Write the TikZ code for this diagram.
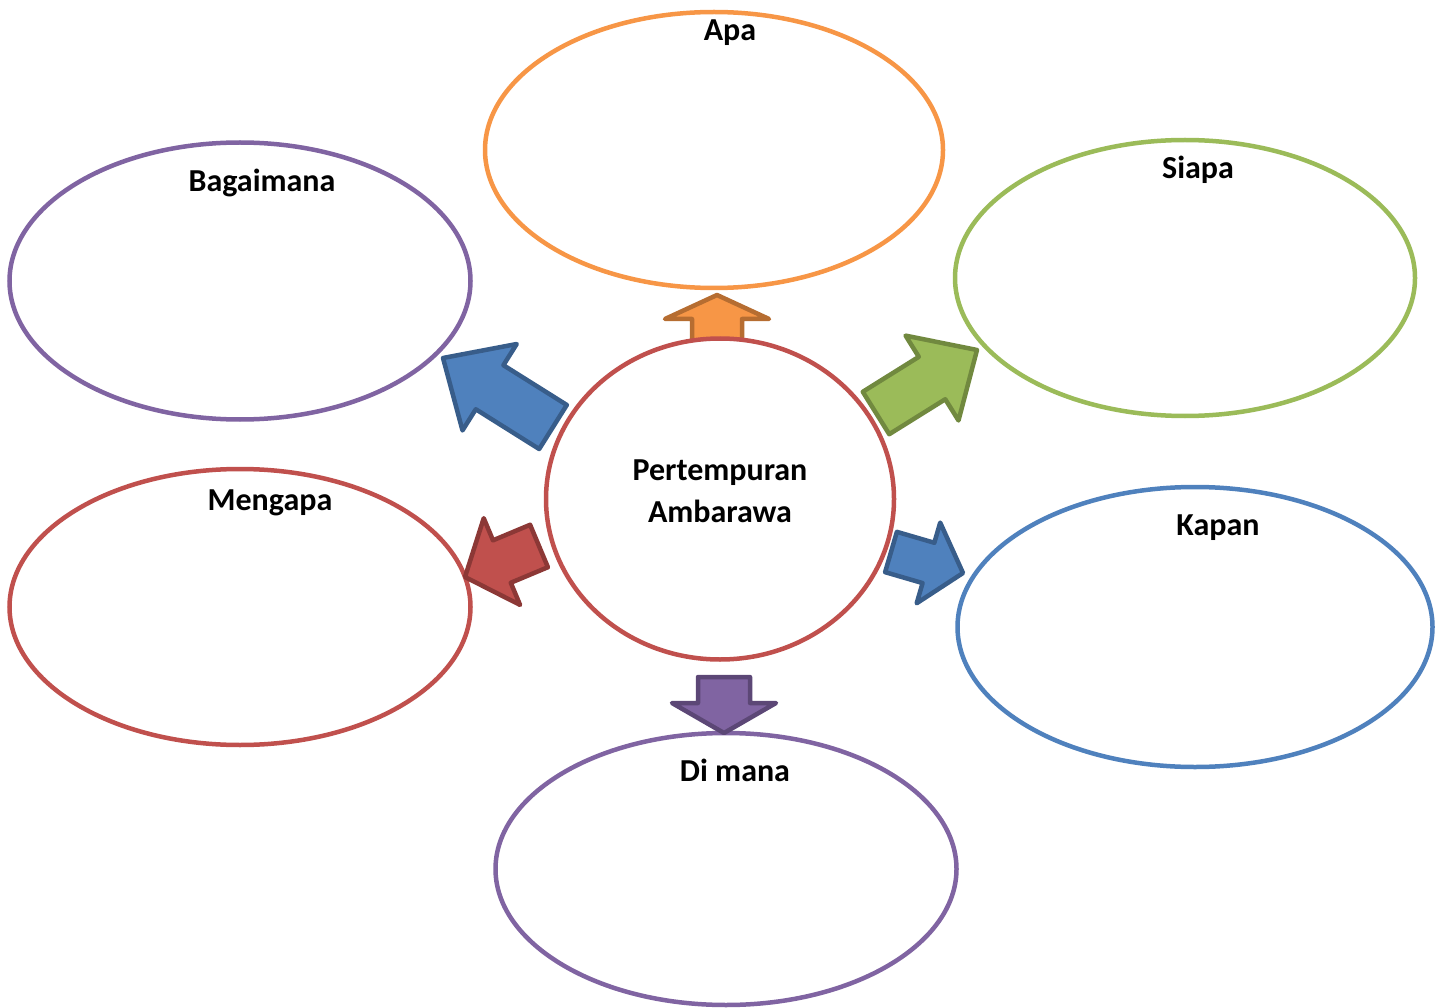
\documentclass[tikz,border=0pt]{standalone}
\usepackage{fontspec}
\setmainfont{Carlito}
\usetikzlibrary{shapes.geometric,calc}

\definecolor{oranye}{HTML}{F79646}
\definecolor{oranyetua}{HTML}{B66D31}
\definecolor{hijau}{HTML}{9BBB59}
\definecolor{hijautua}{HTML}{71893F}
\definecolor{ungu}{HTML}{8064A2}
\definecolor{ungutua}{HTML}{5C4776}
\definecolor{merah}{HTML}{C0504D}
\definecolor{merahtua}{HTML}{8C3836}
\definecolor{biru}{HTML}{4F81BD}
\definecolor{birutua}{HTML}{385D8A}

\tikzset{
  elips/.style={ellipse,draw=#1,line width=4.5pt,fill=white,inner sep=0pt},
  judul/.style={anchor=base,font=\fontsize{32}{42}\selectfont\bfseries},
  panah/.style args={#1/#2}{fill=#1,draw=#2,line width=4.5pt,line join=round}
}

% tail, tip, half shaft, half head, head length
\newcommand{\blockarrow}[6]{%
  \coordinate (ba-h) at ($(#3)!#6!(#2)$);
  \filldraw[#1] ($(#2)!#4!90:(#3)$) -- ($(ba-h)!#4!90:(#3)$) -- ($(ba-h)!#5!90:(#3)$) -- (#3)
    -- ($(ba-h)!#5!-90:(#3)$) -- ($(ba-h)!#4!-90:(#3)$) -- ($(#2)!#4!-90:(#3)$) -- cycle;}

\begin{document}
\begin{tikzpicture}[x=1pt,y=-1pt]
    \useasboundingbox (0,0) rectangle (1443,1008);
    % outer ellipses
    \node[elips=oranye,minimum width=458,minimum height=276] (apa) at (714,150) {};
    \node[elips=hijau,minimum width=460,minimum height=276] (siapa) at (1185,278) {};
    \node[elips=ungu,minimum width=461,minimum height=277] (bagaimana) at (240,281) {};
    \node[elips=merah,minimum width=461,minimum height=276] (mengapa) at (240,607) {};
    \node[elips=biru,minimum width=475,minimum height=280] (kapan) at (1195,627) {};
    \node[elips=ungu,minimum width=461,minimum height=272] (dimana) at (726,869) {};
    % labels
    \node[judul] (t-apa) at (730,41) {Apa};
    \node[judul] (t-siapa) at (1198,179) {Siapa};
    \node[judul] (t-bagaimana) at (262,192) {Bagaimana};
    \node[judul] (t-mengapa) at (270,510) {Mengapa};
    \node[judul] (t-kapan) at (1218,535) {Kapan};
    \node[judul] (t-dimana) at (735,781) {Di mana};
    % block arrows
    \coordinate (apa-a) at (717,341);  \coordinate (apa-b) at (717,295);
    \coordinate (dim-a) at (724,677);  \coordinate (dim-b) at (724,733);
    \coordinate (bag-a) at (553,427);  \coordinate (bag-b) at (443,358);
    \coordinate (sia-a) at (876,413);  \coordinate (sia-b) at (977,350);
    \coordinate (men-a) at (539,546);  \coordinate (men-b) at (465,577);
    \coordinate (kap-a) at (891,552);  \coordinate (kap-b) at (963,573);
    \blockarrow{panah=oranye/oranyetua}{apa-a}{apa-b}{25pt}{52pt}{24pt}
    \blockarrow{panah=ungu/ungutua}{dim-a}{dim-b}{26pt}{52pt}{30pt}
    \blockarrow{panah=biru/birutua}{bag-a}{bag-b}{26pt}{51pt}{55pt}
    \blockarrow{panah=hijau/hijautua}{sia-a}{sia-b}{25pt}{50pt}{53pt}
    \blockarrow{panah=merah/merahtua}{men-a}{men-b}{23pt}{47pt}{40pt}
    \blockarrow{panah=biru/birutua}{kap-a}{kap-b}{21pt}{42pt}{36pt}
    % centre
    \node[elips=merah,minimum width=348,minimum height=321] (pusat) at (720,499) {};
    \node[judul,align=center,anchor=center] (t-pusat) at (720,491) {Pertempuran\\Ambarawa};
\end{tikzpicture}
\end{document}
